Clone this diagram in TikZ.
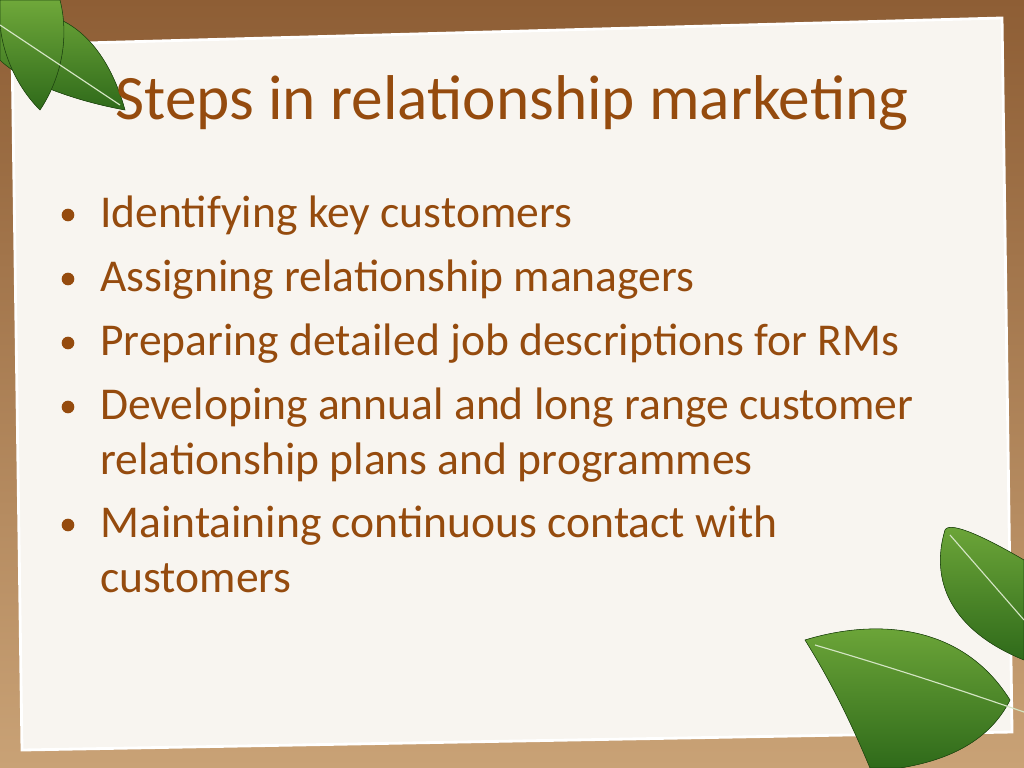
\documentclass[tikz,border=0pt]{standalone}
\usepackage{fontspec}
\setmainfont{Carlito}
\definecolor{woodtop}{HTML}{8E5E35}
\definecolor{woodbot}{HTML}{C9A276}
\definecolor{paper}{HTML}{F8F5F0}
\definecolor{ink}{HTML}{954B0E}
\definecolor{leafdark}{HTML}{2F6A1A}
\definecolor{leaflight}{HTML}{6FA83A}
\tikzset{
  item/.style={anchor=base west, text=ink, font=\fontsize{32.4}{36}\selectfont, inner sep=0pt},
  dot/.style={circle, fill=ink, minimum size=9pt, inner sep=0pt},
  leaf/.style={top color=leaflight, bottom color=leafdark, draw=leafdark!70!black, thin}
}
\begin{document}
\begin{tikzpicture}[x=0.025cm,y=-0.025cm]
\useasboundingbox (0,0) rectangle (1024,768);
\shade[top color=woodtop, bottom color=woodbot] (0,0) rectangle (1024,768);
% paper sheet
\fill[paper, draw=white, line width=2pt] (12,45) -- (1002,18) -- (1012,732) -- (22,750) -- cycle;
% leaves
\fill[leaf] (0,20) .. controls (40,0) and (100,20) .. (125,110) .. controls (70,100) and (20,80) .. (0,60) -- cycle;
\fill[leaf] (0,0) -- (60,0) .. controls (70,40) and (60,80) .. (40,110) .. controls (10,80) and (0,40) .. (0,20) -- cycle;
\draw[white!70!leaflight, thick] (0,25) -- (120,105);
\fill[leaf] (1024,560) .. controls (990,540) and (950,520) .. (945,530) .. controls (930,580) and (950,630) .. (1024,660) -- cycle;
\fill[leaf] (805,640) .. controls (870,620) and (960,620) .. (1010,700) .. controls (990,740) and (950,760) .. (900,768) -- (870,768) .. controls (850,720) and (830,680) .. (805,640) -- cycle;
\draw[white!70!leaflight, thick] (815,645) .. controls (900,670) and (960,690) .. (1024,712);
\draw[white!70!leaflight, thick] (950,535) -- (1024,620);
% title
\node[text=ink, font=\fontsize{45}{50}\selectfont, anchor=base, inner sep=0pt] (title) at (512,120) {Steps in relationship marketing};
% items
\node[item] (s1) at (100,227) {Identifying key customers};
\node[item] (s2) at (100,291) {Assigning relationship managers};
\node[item] (s3) at (100,355) {Preparing detailed job descriptions for RMs};
\node[item] (s4) at (100,419) {Developing annual and long range customer};
\node[item] (s4b) at (100,474) {relationship plans and programmes};
\node[item] (s5) at (100,537) {Maintaining continuous contact with};
\node[item] (s5b) at (100,592) {customers};
\foreach \y in {215,279,343,407,525}
  \node[dot] at (68,\y) {};
\end{tikzpicture}
\end{document}
